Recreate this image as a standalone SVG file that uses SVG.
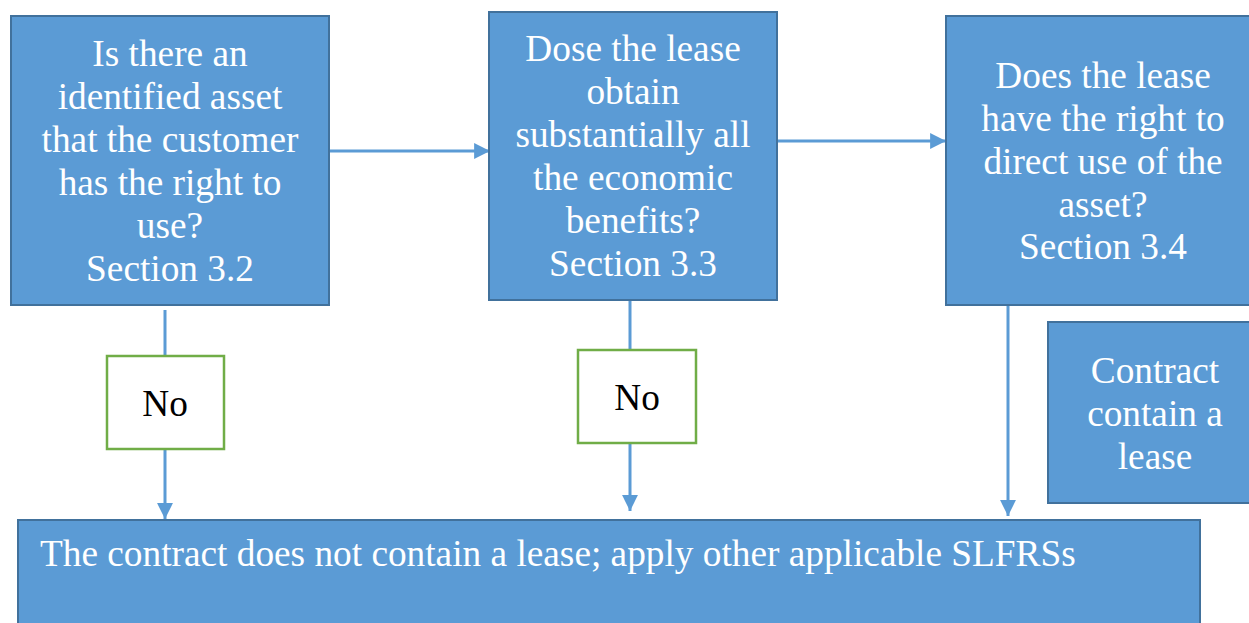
<svg xmlns="http://www.w3.org/2000/svg" width="1249" height="623" viewBox="0 0 1249 623">
<defs>
<style>
.box{fill:#5B9BD5;stroke:#41719C;stroke-width:2}
.no{fill:#FFFFFF;stroke:#70AD47;stroke-width:2.5}
.t{font-family:"Liberation Serif","Times New Roman",serif;font-size:37.3px;fill:#FFFFFF;text-anchor:middle}
.tb{font-family:"Liberation Serif","Times New Roman",serif;font-size:37.3px;fill:#000000;text-anchor:middle}
.c{stroke:#5B9BD5;stroke-width:3;fill:none}
</style>
<marker id="ah" viewBox="0 0 10 10" refX="10" refY="5" markerWidth="5.3" markerHeight="5.3" markerUnits="strokeWidth" orient="auto">
<path d="M0,0 L10,5 L0,10 z" fill="#5B9BD5"/>
</marker>
</defs>
<rect width="1249" height="623" fill="#FFFFFF"/>
<g id="connectors">
<line class="c" x1="330" y1="151" x2="490" y2="151" marker-end="url(#ah)"/>
<line class="c" x1="778" y1="141" x2="946" y2="141" marker-end="url(#ah)"/>
<line class="c" x1="165" y1="310" x2="165" y2="356"/>
<line class="c" x1="165" y1="449" x2="165" y2="519" marker-end="url(#ah)"/>
<line class="c" x1="630" y1="300" x2="630" y2="350"/>
<line class="c" x1="630" y1="443" x2="630" y2="511" marker-end="url(#ah)"/>
<line class="c" x1="1008" y1="305" x2="1008" y2="516" marker-end="url(#ah)"/>
</g>
<g id="node1">
<rect class="box" x="11" y="16" width="318" height="289"/>
<text class="t"><tspan x="170" y="66">Is there an</tspan><tspan x="170" y="109">identified asset</tspan><tspan x="170" y="152">that the customer</tspan><tspan x="170" y="195">has the right to</tspan><tspan x="170" y="238">use?</tspan><tspan x="170" y="281">Section 3.2</tspan></text>
</g>
<g id="node2">
<rect class="box" x="489" y="12" width="288" height="288"/>
<text class="t"><tspan x="633" y="61">Dose the lease</tspan><tspan x="633" y="104">obtain</tspan><tspan x="633" y="147">substantially all</tspan><tspan x="633" y="190">the economic</tspan><tspan x="633" y="233">benefits?</tspan><tspan x="633" y="276">Section 3.3</tspan></text>
</g>
<g id="node3">
<rect class="box" x="946" y="16" width="310" height="289"/>
<text class="t"><tspan x="1103" y="88">Does the lease</tspan><tspan x="1103" y="131">have the right to</tspan><tspan x="1103" y="174">direct use of the</tspan><tspan x="1103" y="217">asset?</tspan><tspan x="1103" y="259">Section 3.4</tspan></text>
</g>
<g id="node4">
<rect class="box" x="1048" y="322" width="210" height="181"/>
<text class="t"><tspan x="1155" y="383">Contract</tspan><tspan x="1155" y="426">contain a</tspan><tspan x="1155" y="469">lease</tspan></text>
</g>
<g id="no1">
<rect class="no" x="107" y="356" width="117" height="93"/>
<text class="tb" x="165" y="416">No</text>
</g>
<g id="no2">
<rect class="no" x="578" y="350" width="118" height="93"/>
<text class="tb" x="637" y="410">No</text>
</g>
<g id="node5">
<rect class="box" x="18" y="520" width="1182" height="110"/>
<text class="t" x="40" y="566" style="text-anchor:start">The contract does not contain a lease; apply other applicable SLFRSs</text>
</g>
</svg>
